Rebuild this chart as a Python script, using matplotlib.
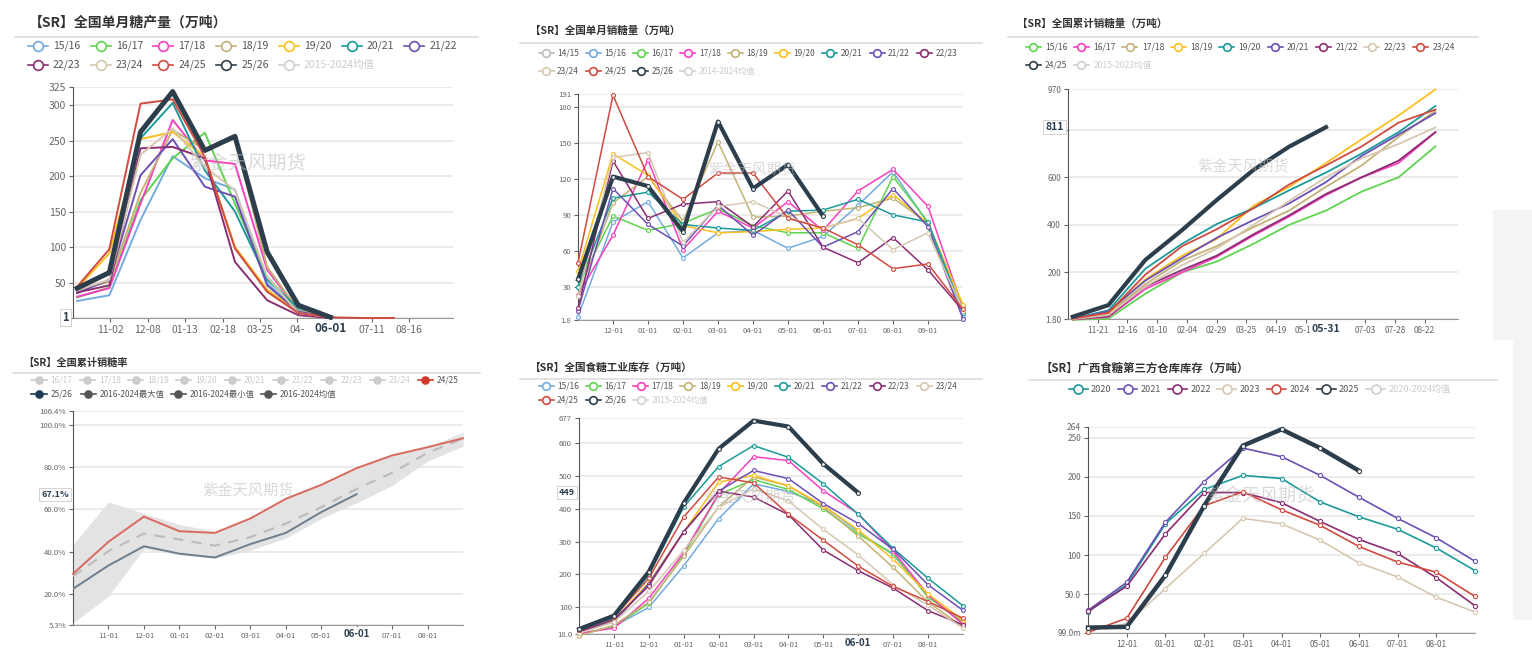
import numpy as np
import matplotlib
matplotlib.use('Agg')
import matplotlib.pyplot as plt
import matplotlib.dates as mdates
import matplotlib.transforms as mtransforms
from matplotlib.lines import Line2D
from matplotlib.patches import Rectangle

plt.rcParams['font.family'] = ['Noto Sans CJK SC', 'DejaVu Sans']

# ---------------- data ----------------
# colours by season slot: 14/15 ... 25/26
COLORS = ['#bdbdbd', '#73abe0', '#5ed44f', '#fa3fbf', '#c2b275', '#fbbf1f',
          '#1b9a9a', '#6c50b5', '#8b2d72', '#d7c7b1', '#d14a3f', '#2c3e4c']
AVG_COLOR = '#d0d0d0'

# panel 1: monthly production
prod_dates = np.array(['2023-10-01', '2023-11-01', '2023-12-01', '2024-01-01', '2024-02-01',
                       '2024-03-01', '2024-04-01', '2024-05-01', '2024-06-01', '2024-07-01',
                       '2024-08-01'], dtype='datetime64[D]')
prod_labels = ['15/16', '16/17', '17/18', '18/19', '19/20', '20/21', '21/22',
               '22/23', '23/24', '24/25', '25/26']
prod_1516 = [24, 32, 138, 228, 197, 181, 49, 9, 1]
prod_1617 = [29, 43, 166, 225, 261, 161, 58, 11, 1]
prod_1718 = [30, 42, 161, 279, 222, 217, 68, 11, 1]
prod_1819 = [39, 51, 176, 265, 237, 253, 72, 11, 1]
prod_1920 = [42, 91, 252, 262, 227, 100, 40, 9, 1]
prod_2021 = [40, 65, 253, 303, 208, 150, 54, 14, 2]
prod_2122 = [35, 54, 201, 252, 185, 171, 46, 9, 1]
prod_2223 = [36, 46, 239, 241, 225, 79, 25, 4, 0]
prod_2324 = [39, 54, 230, 267, 213, 180, 58, 7, 1]
prod_2425 = [44, 97, 302, 308, 227, 98, 37, 7, 1, 0, 0]
prod_2526 = [42, 64, 262, 319, 236, 256, 93, 18, 1]
prod_ticks = np.array(['2023-11-02', '2023-12-08', '2024-01-13', '2024-02-18', '2024-03-25',
                       '2024-04-30', '2024-07-11', '2024-08-16'], dtype='datetime64[D]')
prod_ticklabels = ['11-02', '12-08', '01-13', '02-18', '03-25', '04-', '07-11', '08-16']

# panel 2: monthly sales
sales_x = ['11-01', '12-01', '01-01', '02-01', '03-01', '04-01', '05-01', '06-01',
           '07-01', '08-01', '09-01', '10-01']
sales_labels = ['14/15', '15/16', '16/17', '17/18', '18/19', '19/20', '20/21', '21/22',
                '22/23', '23/24', '24/25', '25/26']
sales_1415 = []
sales_1516 = [5, 84, 101, 54, 75, 77, 62, 72, 98, 126, 83, 5]
sales_1617 = [30, 89, 77, 83, 95, 81, 75, 75, 62, 122, 84, 8]
sales_1718 = [23, 73, 136, 61, 93, 79, 101, 77, 110, 128, 97, 12]
sales_1819 = [22, 100, 122, 85, 151, 88, 89, 93, 96, 104, 83, 14]
sales_1920 = [43, 141, 123, 81, 75, 76, 78, 79, 87, 107, 83, 15]
sales_2021 = [30, 104, 109, 82, 79, 77, 93, 94, 103, 90, 84, 8]
sales_2122 = [10, 112, 82, 64, 98, 73, 94, 63, 76, 112, 80, 3]
sales_2223 = [12, 135, 87, 99, 101, 80, 110, 63, 50, 71, 44, 10]
sales_2324 = [22, 138, 142, 67, 97, 101, 88, 79, 87, 61, 75, 10]
sales_2425 = [50, 190, 122, 103, 125, 125, 87, 79, 65, 45, 49, 11]
sales_2526 = [36, 122, 114, 76, 168, 112, 132, 89]

# panel 3: cumulative sales
cum_dates = np.array(['2023-10-31', '2023-11-30', '2023-12-31', '2024-01-31', '2024-02-29',
                      '2024-03-31', '2024-04-30', '2024-05-31', '2024-06-30', '2024-07-31',
                      '2024-08-31'], dtype='datetime64[D]')
cum_labels = ['15/16', '16/17', '17/18', '18/19', '19/20', '20/21', '21/22', '22/23',
              '23/24', '24/25']
cum_1516 = [0, 5, 110, 200, 245, 320, 400, 460, 540, 600, 730]
cum_1617 = [2, 12, 130, 200, 265, 355, 435, 525, 600, 660, 790]
cum_1718 = [3, 25, 150, 250, 310, 390, 460, 560, 650, 770, 880]
cum_1819 = [5, 30, 170, 270, 340, 480, 560, 660, 760, 860, 970]
cum_1920 = [5, 40, 215, 320, 403, 470, 545, 620, 700, 790, 900]
cum_2021 = [5, 35, 165, 260, 345, 420, 490, 580, 690, 780, 870]
cum_2122 = [2, 15, 140, 210, 270, 360, 440, 530, 600, 670, 790]
cum_2223 = [3, 20, 140, 230, 300, 400, 500, 600, 680, 740, 810]
cum_2324 = [5, 30, 190, 310, 381, 470, 570, 650, 730, 830, 885]
cum_2425 = [13, 62, 252, 378, 504, 631, 729, 811]
cum_ticks = np.array(['2023-11-21', '2023-12-16', '2024-01-10', '2024-02-04', '2024-02-29',
                      '2024-03-25', '2024-04-19', '2024-05-14', '2024-07-03', '2024-07-28',
                      '2024-08-22'], dtype='datetime64[D]')
cum_ticklabels = ['11-21', '12-16', '01-10', '02-04', '02-29', '03-25', '04-19', '05-14',
                  '07-03', '07-28', '08-22']

# panel 4: cumulative sales rate (%)
rate_x = ['10-01', '11-01', '12-01', '01-01', '02-01', '03-01', '04-01', '05-01', '06-01',
          '07-01', '08-01', '09-01']
rate_2425 = [29.5, 44.6, 56.5, 49.6, 48.8, 55.6, 64.9, 71.5, 79.4, 85.4, 89.3, 93.5]
rate_2526 = [22.4, 33.4, 42.5, 39.0, 37.2, 43.5, 48.8, 58.6, 67.1]
rate_mean = [28.3, 40.2, 48.5, 45.7, 42.8, 46.8, 53.2, 60.9, 69.6, 77.2, 86.6, 93.5]
rate_max = [43.3, 63.5, 58.0, 52.8, 49.6, 56.0, 65.0, 71.8, 79.6, 85.5, 89.5, 96.3]
rate_min = [6.3, 18.9, 41.3, 38.5, 36.8, 40.6, 46.4, 55.6, 63.0, 71.2, 82.7, 89.8]

# panel 5: industrial inventory
inv_x = rate_x
inv_labels = prod_labels
inv_1516 = [15, 42, 99, 226, 370, 476, 453, 410, 330, 260, 135, 50]
inv_1617 = [18, 40, 112, 259, 443, 489, 459, 400, 323, 264, 130, 55]
inv_1718 = [20, 36, 127, 266, 446, 559, 547, 455, 385, 271, 137, 48]
inv_1819 = [12, 45, 115, 255, 406, 497, 470, 405, 317, 221, 115, 40]
inv_1920 = [22, 60, 175, 330, 481, 502, 470, 410, 335, 246, 140, 60]
inv_2021 = [28, 66, 198, 406, 529, 593, 557, 476, 383, 279, 188, 104]
inv_2122 = [25, 55, 171, 330, 454, 517, 492, 416, 355, 276, 168, 90]
inv_2223 = [25, 62, 165, 330, 454, 436, 382, 274, 211, 158, 89, 46]
inv_2324 = [20, 55, 148, 274, 404, 461, 424, 337, 259, 168, 106, 36]
inv_2425 = [30, 70, 188, 375, 497, 479, 383, 304, 225, 163, 117, 66]
inv_2526 = [33, 74, 208, 418, 583, 669, 651, 537, 449]

# panel 6: Guangxi third-party warehouse stock
gx_x = ['11-01', '12-01', '01-01', '02-01', '03-01', '04-01', '05-01', '06-01', '07-01',
        '08-01', '09-01']
gx_labels = ['2020', '2021', '2022', '2023', '2024', '2025']
gx_2020 = [27, 62, 140, 184, 202, 198, 168, 149, 133, 109, 80]
gx_2021 = [29, 65, 142, 194, 237, 226, 202, 174, 147, 122, 92]
gx_2022 = [28, 60, 127, 180, 180, 167, 143, 120, 102, 71, 35]
gx_2023 = [3, 12, 57, 102, 147, 140, 119, 90, 72, 46, 27]
gx_2024 = [1, 19, 97, 163, 181, 158, 138, 111, 91, 78, 47]
gx_2025 = [7, 8, 74, 163, 240, 261, 237, 208]

# ---------------- helpers ----------------
W, H = 1532, 659
fig = plt.figure(figsize=(W / 100, H / 100), dpi=100)
fig.patch.set_facecolor('white')


def px(x, y):
    return x / W, 1 - y / H


def make_ax(l, t, r, b):
    return fig.add_axes([l / W, 1 - b / H, (r - l) / W, (b - t) / H])


def header(x, y, title, fs, sep_y, sx0, sx1):
    fig.text(*px(x, y), title, fontsize=fs, fontweight='bold', color='#333333',
             va='center', ha='left')
    fig.add_artist(Line2D([sx0 / W, sx1 / W], [1 - sep_y / H] * 2, color='#dddddd',
                          lw=1.2, transform=fig.transFigure))


def legend_item(x, y, color, label, half, ms, off, fs, filled=False, tcolor='#555555'):
    x0, yy = px(x - half, y)
    x1, _ = px(x + half, y)
    fig.add_artist(Line2D([x0, x1], [yy, yy], color=color, lw=1.2, transform=fig.transFigure))
    xc, _ = px(x, y)
    fig.add_artist(Line2D([xc], [yy], marker='o', ms=ms, mfc=color if filled else 'white',
                          mec=color, mew=1.2, transform=fig.transFigure))
    fig.text(*px(x + off, y), label, fontsize=fs, color=tcolor, va='center', ha='left')


def style_ax(ax, yticks, ylabels, fs):
    ax.set_yticks(yticks)
    ax.set_yticklabels(ylabels)
    ax.set_ylim(yticks[0], yticks[-1])
    ax.grid(axis='y', color='#e6e6e6', lw=1.1)
    ax.set_axisbelow(True)
    for s in ('top', 'right'):
        ax.spines[s].set_visible(False)
    ax.spines['left'].set_color('#555555')
    ax.spines['bottom'].set_color('#999999')
    ax.tick_params(axis='both', labelsize=fs, labelcolor='#666666', color='#666666',
                   length=3, width=0.8, pad=2)


def watermark(x, y, fs):
    fig.text(*px(x, y), '紫金天风期货', fontsize=fs, color='#bbbbbb', alpha=0.55,
             ha='center', va='center', zorder=5)


def bold_xlabel(ax, x, text, fs):
    tr = mtransforms.blended_transform_factory(ax.transData, ax.transAxes)
    ax.annotate(text, xy=(x, 0), xycoords=tr, xytext=(0, -3), textcoords='offset points',
                ha='center', va='top', fontsize=fs, fontweight='bold', color='#2c3e50',
                bbox=dict(fc='white', ec='none', pad=1.5), zorder=10, annotation_clip=False)


def value_box(ax, y, text, fs):
    tr = mtransforms.blended_transform_factory(ax.transAxes, ax.transData)
    ax.annotate(text, xy=(0, y), xycoords=tr, xytext=(-3, 0), textcoords='offset points',
                ha='right', va='center', fontsize=fs, fontweight='bold', color='#2c3e50',
                bbox=dict(fc='white', ec='#cccccc', lw=0.6, pad=1.5), zorder=10,
                annotation_clip=False)


# background decoration on the right
fig.add_artist(Rectangle((1493 / W, 1 - 620 / H), 39 / W, 410 / H, transform=fig.transFigure,
                         fc='#f4f4f4', ec='none', zorder=-2))
fig.add_artist(Rectangle((1470 / W, 0), 43 / W, 1 - 340 / H, transform=fig.transFigure,
                         fc='white', ec='none', zorder=-1))

# ---------------- panel 1 ----------------
header(29, 23, '【SR】全国单月糖产量（万吨）', 10, 37, 15, 478)
for i, lab in enumerate(prod_labels):
    row, col = divmod(i, 7)
    legend_item(38 + 62.7 * col, 46 + 19 * row, COLORS[i + 1], lab, 10, 7, 15, 7.5)
legend_item(38 + 62.7 * 4, 65, AVG_COLOR, '2015-2024均值', 10, 7, 15, 7.5, tcolor='#cccccc')

ax1 = make_ax(73, 87.3, 453, 318)
prod_series = [prod_1516, prod_1617, prod_1718, prod_1819, prod_1920, prod_2021, prod_2122,
               prod_2223, prod_2324, prod_2425, prod_2526]
for i, v in enumerate(prod_series):
    last = i == len(prod_series) - 1
    ax1.plot(prod_dates[:len(v)], v, color=COLORS[i + 1], lw=3.6 if last else 1.4,
             zorder=4 if last else 3, clip_on=False)
style_ax(ax1, [0, 50, 100, 150, 200, 250, 300, 325],
         ['0', '50', '100', '150', '200', '250', '300', '325'], 7.5)
ax1.set_xlim(np.datetime64('2023-09-27'), np.datetime64('2024-09-27'))
ax1.set_xticks(prod_ticks)
ax1.set_xticklabels(prod_ticklabels)
bold_xlabel(ax1, mdates.date2num(np.datetime64('2024-06-01')), '06-01', 8.5)
value_box(ax1, prod_2526[-1], str(prod_2526[-1]), 8)
watermark(248, 164, 14)

# ---------------- panel 2 ----------------
header(530, 31, '【SR】全国单月销糖量（万吨）', 7.6, 43, 520, 982)
for i, lab in enumerate(sales_labels):
    row, col = divmod(i, 9)
    legend_item(546 + 47.3 * col, 53 + 18 * row, COLORS[i], lab, 7.5, 5.5, 11, 6)
legend_item(546 + 47.3 * 3, 71, AVG_COLOR, '2014-2024均值', 7.5, 5.5, 11, 6, tcolor='#cccccc')

ax2 = make_ax(578, 94, 963, 320.4)
sales_series = [sales_1415, sales_1516, sales_1617, sales_1718, sales_1819, sales_1920,
                sales_2021, sales_2122, sales_2223, sales_2324, sales_2425, sales_2526]
for i, v in enumerate(sales_series):
    last = i == len(sales_series) - 1
    ax2.plot(np.arange(len(v)), v, color=COLORS[i], lw=3.0 if last else 1.1,
             marker='o', ms=2.8, mfc='white', mew=0.8,
             zorder=4 if last else 3, clip_on=False)
style_ax(ax2, [1.8, 30, 60, 90, 120, 150, 180, 191],
         ['1.8', '30', '60', '90', '120', '150', '180', '191'], 5.6)
ax2.set_xlim(0, len(sales_x) - 1)
ax2.set_xticks(np.arange(1, len(sales_x) - 1))
ax2.set_xticklabels(sales_x[1:-1])
watermark(752, 170, 10.5)

# ---------------- panel 3 ----------------
header(1017, 24, '【SR】全国累计销糖量（万吨）', 7.6, 37, 1008, 1478)
for i, lab in enumerate(cum_labels):
    row, col = divmod(i, 9)
    legend_item(1033 + 48.4 * col, 47 + 18 * row, COLORS[i + 2], lab, 7.5, 5.5, 12, 6.2)
legend_item(1033 + 48.4, 65, AVG_COLOR, '2015-2023均值', 7.5, 5.5, 12, 6.2, tcolor='#cccccc')

ax3 = make_ax(1068, 89.4, 1458, 319.4)
cum_series = [cum_1516, cum_1617, cum_1718, cum_1819, cum_1920, cum_2021, cum_2122,
              cum_2223, cum_2324, cum_2425]
for i, v in enumerate(cum_series):
    last = i == len(cum_series) - 1
    ax3.plot(cum_dates[:len(v)], v, color=COLORS[i + 2], lw=3.0 if last else 1.3,
             zorder=4 if last else 3, clip_on=False)
# the 800 label sits under the boxed latest value
style_ax(ax3, [1.8, 200, 400, 600, 800, 970], ['1.80', '200', '400', '600', '', '970'], 6)
ax3.set_xlim(np.datetime64('2023-10-27'), np.datetime64('2024-09-19'))
ax3.set_xticks(cum_ticks)
ax3.set_xticklabels(cum_ticklabels)
bold_xlabel(ax3, mdates.date2num(np.datetime64('2024-05-31')), '05-31', 7.5)
value_box(ax3, cum_2425[-1], str(cum_2425[-1]), 7.5)
watermark(1243, 166, 11)

# ---------------- panel 4 ----------------
header(23, 363, '【SR】全国累计销糖率', 7.3, 373, 13, 480)
grey_labels = ['16/17', '17/18', '18/19', '19/20', '20/21', '21/22', '22/23', '23/24']
for i, lab in enumerate(grey_labels):
    legend_item(39 + 48.3 * i, 380, '#cccccc', lab, 7.5, 5, 11.7, 6, filled=True,
                tcolor='#cccccc')
legend_item(39 + 48.3 * 8, 380, '#d33a2c', '24/25', 7.5, 5, 11.7, 6, filled=True)
legend_item(39, 394, '#1f3b55', '25/26', 7.5, 5, 11.7, 6, filled=True)
legend_item(88, 394, '#555555', '2016-2024最大值', 7.5, 5, 11.7, 6, filled=True)
legend_item(178, 394, '#555555', '2016-2024最小值', 7.5, 5, 11.7, 6, filled=True)
legend_item(268, 394, '#555555', '2016-2024均值', 7.5, 5, 11.7, 6, filled=True)

ax4 = make_ax(73, 411, 463, 625)
xr = np.arange(len(rate_x))
ax4.fill_between(xr, rate_min, rate_max, color='#e3e3e3', lw=0, zorder=2)
ax4.plot(xr, rate_mean, color='#bbbbbb', lw=1.5, ls=(0, (5, 4)), zorder=3)
ax4.plot(xr, rate_2425, color='#d9695f', lw=1.4, zorder=3, clip_on=False)
ax4.plot(xr[:len(rate_2526)], rate_2526, color='#6d7e8e', lw=1.4, zorder=3)
style_ax(ax4, [5.3, 20, 40, 60, 80, 100, 106.4],
         ['5.3%', '20.0%', '40.0%', '60.0%', '80.0%', '100.0%', '106.4%'], 5.6)
ax4.set_xlim(0, len(rate_x) - 1)
ax4.set_xticks(np.arange(1, len(rate_x) - 1))
ax4.set_xticklabels([('' if t == '06-01' else t) for t in rate_x[1:-1]])
bold_xlabel(ax4, rate_x.index('06-01'), '06-01', 7)
value_box(ax4, rate_2526[-1], f'{rate_2526[-1]:.1f}%', 6.5)
watermark(248, 490, 11)

# ---------------- panel 5 ----------------
header(530, 368, '【SR】全国食糖工业库存（万吨）', 7.7, 379, 520, 982)
for i, lab in enumerate(inv_labels):
    row, col = divmod(i, 9)
    legend_item(546 + 47.3 * col, 386 + 14 * row, COLORS[i + 1], lab, 7.5, 5.5, 11, 6)
legend_item(546 + 47.3 * 2, 400, AVG_COLOR, '2015-2024均值', 7.5, 5.5, 11, 6, tcolor='#cccccc')

ax5 = make_ax(579, 418, 963, 634)
inv_series = [inv_1516, inv_1617, inv_1718, inv_1819, inv_1920, inv_2021, inv_2122,
              inv_2223, inv_2324, inv_2425, inv_2526]
for i, v in enumerate(inv_series):
    last = i == len(inv_series) - 1
    ax5.plot(np.arange(len(v)), v, color=COLORS[i + 1], lw=3.0 if last else 1.1,
             marker='o', ms=2.8, mfc='white', mew=0.8,
             zorder=4 if last else 3, clip_on=False)
style_ax(ax5, [18, 100, 200, 300, 400, 500, 600, 677],
         ['18.0', '100', '200', '300', '400', '500', '600', '677'], 5.6)
ax5.set_xlim(0, len(inv_x) - 1)
ax5.set_xticks(np.arange(1, len(inv_x) - 1))
ax5.set_xticklabels([('' if t == '06-01' else t) for t in inv_x[1:-1]])
bold_xlabel(ax5, inv_x.index('06-01'), '06-01', 7)
value_box(ax5, inv_2526[-1], str(inv_2526[-1]), 6.5)
watermark(750, 497, 11)

# ---------------- panel 6 ----------------
header(1041, 368, '【SR】广西食糖第三方仓库库存（万吨）', 8.2, 380, 1029, 1497)
for i, lab in enumerate(gx_labels):
    legend_item(1078 + 49.6 * i, 389, COLORS[i + 6], lab, 9.5, 6.5, 13, 6.5)
legend_item(1078 + 49.6 * 6, 389, AVG_COLOR, '2020-2024均值', 9.5, 6.5, 13, 6.5, tcolor='#cccccc')

ax6 = make_ax(1088, 427, 1475, 633)
gx_series = [gx_2020, gx_2021, gx_2022, gx_2023, gx_2024, gx_2025]
for i, v in enumerate(gx_series):
    last = i == len(gx_series) - 1
    ax6.plot(np.arange(len(v)), v, color=COLORS[i + 6], lw=3.2 if last else 1.2,
             marker='o', ms=3, mfc='white', mew=0.8,
             zorder=4 if last else 3, clip_on=False)
style_ax(ax6, [0.099, 50, 100, 150, 200, 250, 264],
         ['99.0m', '50.0', '100', '150', '200', '250', '264'], 6)
ax6.set_xlim(0, len(gx_x) - 1)
ax6.set_xticks(np.arange(1, len(gx_x) - 1))
ax6.set_xticklabels(gx_x[1:-1])
watermark(1260, 496, 13)

fig.savefig('out.png', dpi=100)
